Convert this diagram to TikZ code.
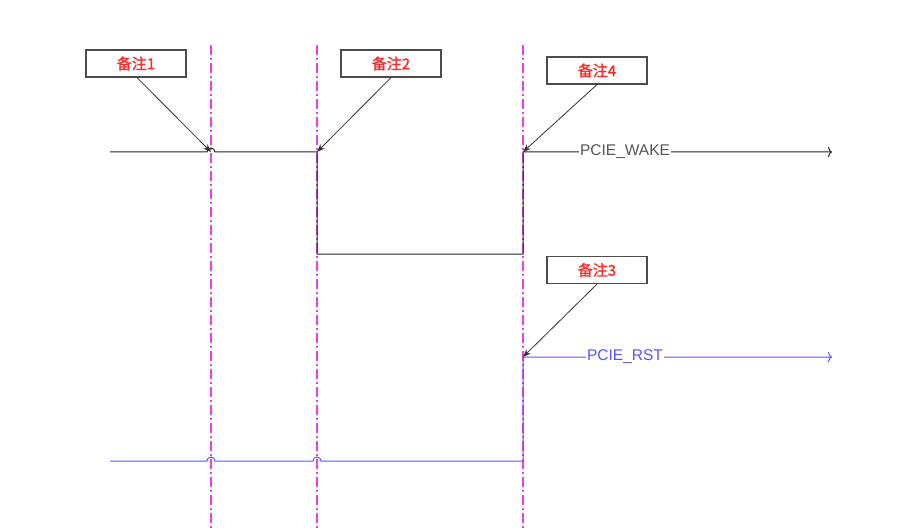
\documentclass[tikz,border=0pt]{standalone}
\usepackage{fontspec}
\setmainfont{Liberation Sans}
\newfontfamily\cjk{Noto Sans CJK SC}[FakeBold=1.5]
\usetikzlibrary{arrows.meta}

\definecolor{guidemag}{RGB}{240,60,240}
\definecolor{rstblue}{RGB}{85,85,255}
\definecolor{notered}{RGB}{250,45,45}
\definecolor{wakegray}{RGB}{85,85,85}

\tikzset{
  guideline/.style={color=guidemag, line width=1.2pt, dash pattern=on 10pt off 3pt on 2pt off 3pt},
  notebox/.style={draw=black!70, line width=1.2pt, fill=white, minimum width=100pt,
                  minimum height=27pt, inner sep=0pt, text=notered,
                  font=\cjk\fontsize{15}{17}\selectfont},
  notearrow/.style={black!80, line width=0.8pt, -{Stealth[length=8pt,width=6pt]}},
  siglabel/.style={fill=white, inner xsep=1pt, inner ysep=2pt,
                   font=\fontsize{15.5}{17}\selectfont}
}

\begin{document}
\begin{tikzpicture}[x=1pt,y=1pt]

    \useasboundingbox (0,0) rectangle (899,531);

    % dash-dot guides
    \draw[guideline] (211,486) -- (211,3);
    \draw[guideline] (317,486) -- (317,3);
    \draw[guideline] (523,486) -- (523,3);

    % PCIE_WAKE (black)
    \draw[black!85, line width=1pt, -{To[length=4pt,width=10pt]}] (110,379) -- (207,379) arc (180:0:4)
        -- (317,379) -- (317,277) -- (523,277) -- (523,379) -- (832,379);
    \node[siglabel, text=wakegray] (wake) at (625,379) {PCIE\_WAKE};

    % PCIE_RST (blue)
    \draw[rstblue, line width=1pt, -{To[length=4pt,width=10pt]}] (110,70) -- (207,70) arc (180:0:4)
        -- (313,70) arc (180:0:4) -- (523,70) -- (523,174) -- (832,174);
    \node[siglabel, text=rstblue] (rst) at (625,174) {PCIE\_RST};

    % notes
    \node[notebox] (note1) at (136,467.5) {备注1};
    \node[notebox] (note2) at (391,467.5) {备注2};
    \node[notebox] (note4) at (597,460.5) {备注4};
    \node[notebox] (note3) at (597,261) {备注3};

    \coordinate (p1) at (211,379);
    \coordinate (p2) at (317,379);
    \coordinate (p4) at (523,379);
    \coordinate (p3) at (523,174);

    \draw[notearrow] ([xshift=1pt]note1.south) -- (p1);
    \draw[notearrow] (note2.south) -- (p2);
    \draw[notearrow] (note4.south) -- (p4);
    \draw[notearrow] (note3.south) -- (p3);

\end{tikzpicture}
\end{document}
